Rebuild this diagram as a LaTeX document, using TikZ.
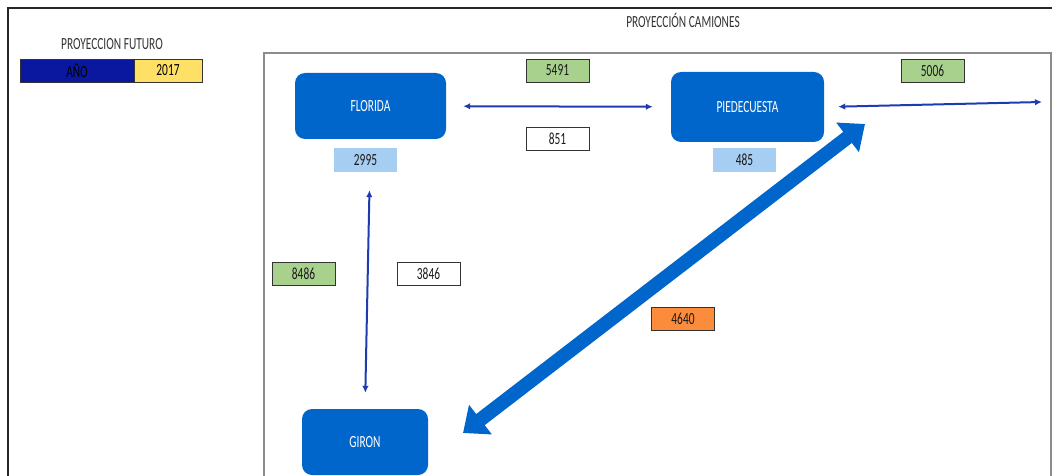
\documentclass[tikz,border=0pt]{standalone}
\usepackage{fontspec}
\setmainfont{Carlito}[FakeStretch=0.67]
\usepackage{tikz}
\usetikzlibrary{arrows.meta}

\definecolor{cityblue}{RGB}{0,102,204}
\definecolor{linkblue}{RGB}{30,60,175}
\definecolor{navy}{RGB}{10,24,160}
\definecolor{sun}{RGB}{255,224,102}
\definecolor{leaf}{RGB}{169,209,142}
\definecolor{sky}{RGB}{166,206,242}
\definecolor{tang}{RGB}{250,140,60}

\tikzset{
  every node/.style={font=\fontsize{17}{20}\selectfont, inner sep=0pt},
  city/.style={fill=cityblue, rounded corners=10pt, text=white},
  val/.style={draw=black!80, line width=0.9pt, minimum width=63pt, minimum height=23pt, text=black!90},
  link/.style={linkblue, line width=2pt, {Latex[length=7pt,width=6.5pt]}-{Latex[length=7pt,width=6.5pt]}}
}

\begin{document}
\begin{tikzpicture}[x=1pt, y=-1pt]
        \useasboundingbox (0,0) rectangle (1052,476);
        \draw[black!85, line width=1.6pt] (8,476) -- (8,8) -- (1052,8);
        \draw[black!45, line width=1.2pt] (264,476) -- (264,53) -- (1051,53) -- (1051,476);

        \node[text=black!80] (fut) at (112,44) {PROYECCION FUTURO};
        \node[text=black!80] (cam) at (683,20) {PROYECCIÓN CAMIONES};
        \node[draw=black!80, fill=navy, minimum width=114pt, minimum height=23pt] (ano) at (77,70.5) {AÑO};
        \node[draw=black!80, fill=sun, minimum width=68pt, minimum height=23pt] (year) at (168,70.5) {2017};

        \node[city, minimum width=151pt, minimum height=66pt] (flo) at (370.5,106) {FLORIDA};
        \node[city, minimum width=153pt, minimum height=70pt] (pie) at (747.5,107) {PIEDECUESTA};
        \node[city, minimum width=126pt, minimum height=66pt] (gir) at (365,442) {GIRON};

        \node[val, fill=leaf] (v5491) at (557.5,70.5) {5491};
        \node[val, fill=white] (v851) at (557.5,138.5) {851};
        \node[val, draw=none, fill=sky] (v2995) at (365.5,160) {2995};
        \node[val, draw=none, fill=sky] (v485) at (744.5,160) {485};
        \node[val, fill=leaf] (v5006) at (932.5,70.5) {5006};
        \node[val, fill=leaf] (v8486) at (303.5,273.5) {8486};
        \node[val, fill=white] (v3846) at (428.5,273.5) {3846};
        \node[val, fill=tang] (v4640) at (683,318.5) {4640};

        \coordinate (east) at (1042,102);
        \coordinate (bigS) at (463,433);
        \coordinate (bigN) at (865,124);

        \draw[link, shorten <=17pt, shorten >=18pt] (flo) -- (pie);
        \draw[link, shorten <=14pt] (pie.east) -- (east);
        \draw[link, shorten <=51pt, shorten >=16pt] (flo.south) -- (gir.north);
        \draw[cityblue, line width=14pt, {Triangle[length=22pt,width=36pt]}-{Triangle[length=22pt,width=36pt]}] (bigS) -- (bigN);
      \end{tikzpicture}
\end{document}
